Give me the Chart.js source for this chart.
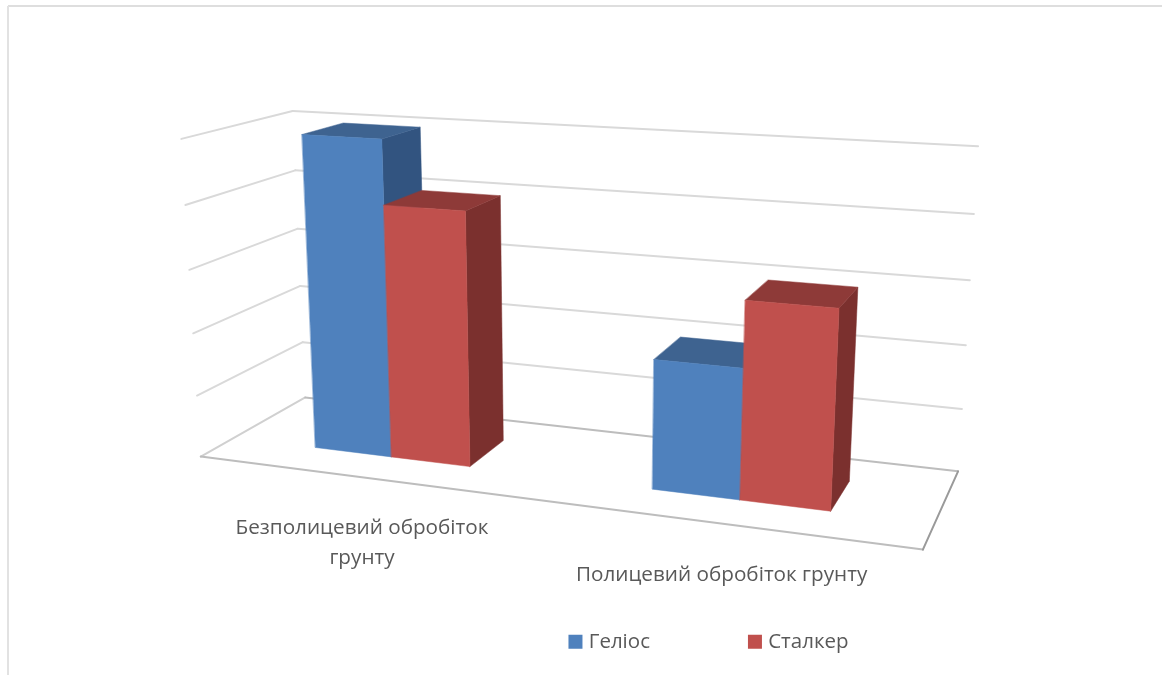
<!DOCTYPE html>
<html>
<head>
<meta charset="utf-8">
<style>
html,body{margin:0;padding:0;background:#fff;}
canvas{display:block;}
</style>
<script src="https://cdn.jsdelivr.net/npm/chart.js@4"></script>
</head>
<body>
<div style="width:1162px;height:675px;position:relative"><canvas id="c" width="1162" height="675"></canvas></div>
<script>
const categories = ['Безполицевий обробіток грунту', 'Полицевий обробіток грунту'];
const categoryLines = [['Безполицевий обробіток', 'грунту'], ['Полицевий обробіток грунту']];
const heliosValues = [5, 2];
const stalkerValues = [4, 3];
const seriesNames = ['Геліос', 'Сталкер'];
const valueMax = 5;
const valueStep = 1;

// Corners of the plot box on the page: [across, up, into depth] -> [x, y]
const boxCorners = [
  [[0,0,0],[201,457]], [[1,0,0],[923,549]], [[0,0,1],[305,397]], [[1,0,1],[958,472]],
  [[0,1,1],[293,111]], [[1,1,1],[978,146]], [[0,1,0],[181,139]]
];
const depthFront = 0.3, depthBack = 0.7;

// Least-squares fit of the 3D projective camera through the box corners
function fitCamera(pts){
  const rows = [], rhs = [];
  pts.forEach(([[u,v,w],[x,y]])=>{
    const X = x/1000, Y = y/1000;
    rows.push([u,v,w,1,0,0,0,0,-X*u,-X*v,-X*w]); rhs.push(X);
    rows.push([0,0,0,0,u,v,w,1,-Y*u,-Y*v,-Y*w]); rhs.push(Y);
  });
  const n = 11, M = [];
  for(let i=0;i<n;i++){
    M.push(new Array(n+1).fill(0));
    for(let j=0;j<n;j++) rows.forEach(r=>{M[i][j]+=r[i]*r[j];});
    rows.forEach((r,k)=>{M[i][n]+=r[i]*rhs[k];});
  }
  for(let i=0;i<n;i++){
    let p=i; for(let k=i+1;k<n;k++) if(Math.abs(M[k][i])>Math.abs(M[p][i])) p=k;
    [M[i],M[p]]=[M[p],M[i]];
    for(let k=0;k<n;k++){
      if(k===i) continue;
      const f=M[k][i]/M[i][i];
      for(let j=i;j<=n;j++) M[k][j]-=f*M[i][j];
    }
  }
  return M.map((r,i)=>r[n]/r[i]);
}
const cam = fitCamera(boxCorners);
function project(u,v,w){
  const d = cam[8]*u+cam[9]*v+cam[10]*w+1;
  return [1000*(cam[0]*u+cam[1]*v+cam[2]*w+cam[3])/d, 1000*(cam[4]*u+cam[5]*v+cam[6]*w+cam[7])/d];
}
function stroke(ctx,a,b,color,width){
  ctx.strokeStyle=color; ctx.lineWidth=width; ctx.beginPath();
  ctx.moveTo(a[0],a[1]); ctx.lineTo(b[0],b[1]); ctx.stroke();
}
function face(ctx,pts,color){
  ctx.fillStyle=color; ctx.strokeStyle=color; ctx.lineWidth=0.5; ctx.lineJoin='round';
  ctx.beginPath(); pts.forEach((p,i)=>i?ctx.lineTo(p[0],p[1]):ctx.moveTo(p[0],p[1]));
  ctx.closePath(); ctx.fill(); ctx.stroke();
}
const shades = [
  {front:'#4F81BD', top:'#3E6390', side:'#325480'},
  {front:'#C0504D', top:'#8E3A38', side:'#7B302E'}
];

const perspectiveBars = {
  id:'perspectiveBars',
  beforeDatasetsDraw(chart){
    const {ctx, chartArea:a, scales:{x:xs,y:ys}} = chart;
    const nu = px => (px-a.left)/(a.right-a.left);
    const nv = py => (a.bottom-py)/(a.bottom-a.top);
    ctx.save();
    // sheet edges
    stroke(ctx,[8,6],[1162,6],'#DEDEDE',2);
    stroke(ctx,[8,6],[8,675],'#E2E2E2',2);
    // wall gridlines
    ys.ticks.forEach(t=>{
      const v = nv(ys.getPixelForValue(t.value));
      if(v<=0) return;
      ctx.lineCap='round';
      stroke(ctx,project(0,v,0),project(0,v,1),'#D9D9D9',2);
      stroke(ctx,project(0,v,1),project(1,v,1),'#D9D9D9',2);
    });
    // floor
    stroke(ctx,project(0,0,0),project(0,0,1),'#D0D0D0',2);
    stroke(ctx,project(0,0,1),project(1,0,1),'#BDBDBD',2);
    stroke(ctx,project(0,0,0),project(1,0,0),'#BDBDBD',2);
    stroke(ctx,project(1,0,0),project(1,0,1),'#9A9A9A',2);
    // bars, left series first so the next one overlaps its side
    categories.forEach((_,j)=>{
      chart.data.datasets.forEach((ds,i)=>{
        const el = chart.getDatasetMeta(i).data[j];
        const u0=nu(el.x-el.width/2), u1=nu(el.x+el.width/2), v=nv(el.y), b=nv(el.base);
        const s=shades[i], f=depthFront, k=depthBack;
        face(ctx,[project(u1,b,f),project(u1,b,k),project(u1,v,k),project(u1,v,f)],s.side);
        face(ctx,[project(u0,v,f),project(u1,v,f),project(u1,v,k),project(u0,v,k)],s.top);
        face(ctx,[project(u0,b,f),project(u1,b,f),project(u1,v,f),project(u0,v,f)],s.front);
      });
    });
    // category labels under the front floor edge
    ctx.fillStyle='#595959'; ctx.font='20.7px "Open Sans"'; ctx.textAlign='center'; ctx.textBaseline='middle';
    categoryLines.forEach((lines,j)=>{
      const c = xs.getPixelForValue(j);
      const p = project(nu(c),0,0);
      lines.forEach((line,n)=>ctx.fillText(line,p[0],p[1]+51+n*30));
    });
    ctx.restore();
    return false;
  }
};

new Chart(document.getElementById('c'),{
  type:'bar',
  data:{labels:categories,datasets:[
    {label:seriesNames[0],data:heliosValues,backgroundColor:shades[0].front,borderColor:shades[0].front,borderWidth:8},
    {label:seriesNames[1],data:stalkerValues,backgroundColor:shades[1].front,borderColor:shades[1].front,borderWidth:8}
  ]},
  plugins:[perspectiveBars],
  options:{
    responsive:false,animation:false,
    datasets:{bar:{categoryPercentage:0.476,barPercentage:1}},
    layout:{padding:{left:259,bottom:13}},
    scales:{
      x:{display:false},
      y:{display:false,min:0,max:valueMax,ticks:{stepSize:valueStep}}
    },
    plugins:{
      tooltip:{enabled:false},
      legend:{position:'bottom',labels:{boxWidth:6,boxHeight:6,padding:102,color:'#595959',font:{family:'"Open Sans"',size:20.5}}}
    }
  }
});
</script>
</body>
</html>
